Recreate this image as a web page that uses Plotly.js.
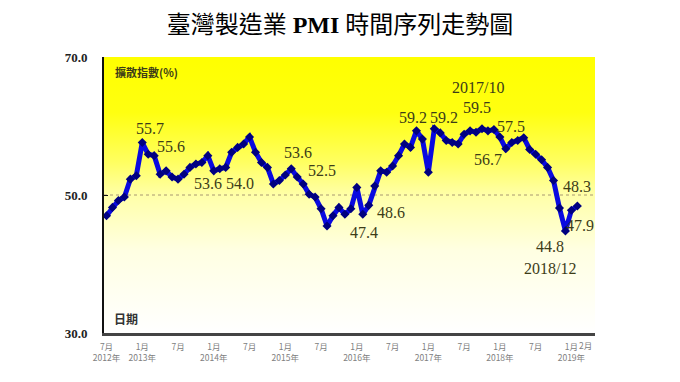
<!DOCTYPE html>
<html>
<head>
<meta charset="utf-8">
<script src="https://cdn.plot.ly/plotly-3.0.1.min.js"></script>
<style>html,body{margin:0;padding:0;background:#fff;}#chart{width:680px;height:382px;}</style>
</head>
<body>
<div id="chart"></div>
<script>
// Monthly PMI, July 2012 (index 0) to February 2019 (index 79)
const startLabel = '2012-07';
const pmi = [
  47.0, 48.2, 49.2, 49.7, 52.3, 52.8,            // 2012 Jul-Dec
  57.6, 55.9, 55.7, 53.0, 53.5, 52.6, 52.3, 53.0, 54.0, 54.5, 54.7, 55.7, // 2013
  53.5, 53.8, 54.0, 56.2, 56.9, 57.4, 58.4, 56.2, 54.7, 54.0, 51.6, 52.1, // 2014
  52.9, 53.8, 52.6, 51.6, 50.1, 49.7, 48.0, 45.5, 47.0, 48.2, 47.2, 48.0, // 2015
  51.1, 47.2, 48.5, 51.3, 53.5, 53.3, 54.2, 55.7, 57.4, 56.9, 59.3, 58.1, // 2016
  53.3, 59.6, 59.0, 57.9, 57.6, 57.4, 58.8, 59.3, 59.1, 59.6, 59.3, 59.5, // 2017
  58.4, 56.7, 57.6, 57.9, 58.3, 56.6, 55.9, 55.1, 54.0, 52.1, 48.1, 44.8, // 2018
  47.8, 48.4                                       // 2019 Jan-Feb
];
const monthIndex = pmi.map((_, i) => i);

const tickIndex = [0, 6, 12, 18, 24, 30, 36, 42, 48, 54, 60, 66, 72, 78];
const tickLabels = ['7月<br>2012年', '1月<br>2013年', '7月', '1月<br>2014年', '7月', '1月<br>2015年',
  '7月', '1月<br>2016年', '7月', '1月<br>2017年', '7月', '1月<br>2018年', '7月', '1月<br>2019年'];

const yTicks = [30, 50, 70];
const yTickLabels = ['30.0', '50.0', '70.0'];

// call-out labels [text, month position, value position]
const callouts = [
  ['55.7', 7.3, 59.6], ['55.6', 10.9, 57.1], ['53.6', 17.0, 51.6], ['54.0', 22.4, 51.6],
  ['53.6', 32.1, 56.1], ['52.5', 36.2, 53.5], ['47.4', 43.2, 44.5], ['48.6', 47.7, 47.4],
  ['59.2', 51.5, 61.3], ['59.2', 56.6, 61.3], ['2017/10', 62.3, 65.65], ['59.5', 62.2, 62.75],
  ['57.5', 67.9, 60.0], ['56.7', 64.0, 55.2], ['48.3', 78.9, 51.3], ['47.9', 79.4, 45.65],
  ['44.8', 74.4, 42.6], ['2018/12', 74.4, 39.4]
];

const serif = 'Liberation Serif, Times New Roman, serif';
const cjk = 'Noto Sans CJK TC, Noto Sans CJK SC, sans-serif';

const gradSvg = "<svg xmlns='http://www.w3.org/2000/svg' width='100' height='100' preserveAspectRatio='none'>" +
  "<defs><linearGradient id='g' x1='0' y1='0' x2='0' y2='1'>" +
  "<stop offset='0' stop-color='#ffff00'/><stop offset='0.2' stop-color='#ffff10'/>" +
  "<stop offset='0.38' stop-color='#ffff60'/><stop offset='0.5' stop-color='#ffffa8'/>" +
  "<stop offset='0.7' stop-color='#ffffe2'/><stop offset='1' stop-color='#ffffff'/>" +
  "</linearGradient></defs><rect width='100' height='100' fill='url(#g)'/></svg>";

const annotations = callouts.map(c => ({
  text: c[0], x: c[1], y: c[2], xref: 'x', yref: 'y', showarrow: false,
  font: {family: serif, size: 16, color: '#3c3c18'}
}));
annotations.push({text: '擴散指數(%)', xref: 'paper', yref: 'paper', x: 0.018, y: 0.946,
  xanchor: 'left', yanchor: 'middle', showarrow: false,
  font: {family: cjk, size: 11, color: '#3c3c18', weight: 'bold'}});
annotations.push({text: '日期', xref: 'paper', yref: 'paper', x: 0.016, y: 0.054,
  xanchor: 'left', yanchor: 'middle', showarrow: false,
  font: {family: cjk, size: 12, color: '#333', weight: 'bold'}});
annotations.push({text: '2月', xref: 'x', yref: 'paper', x: 80.4, y: 0, yshift: -12,
  yanchor: 'middle', showarrow: false,
  font: {family: cjk, size: 8.5, color: '#808080'}});

const trace = {
  x: monthIndex, y: pmi, type: 'scatter', mode: 'lines+markers',
  line: {color: '#0a0ae0', width: 5},
  marker: {symbol: 'diamond', size: 7, color: '#000080'},
  hoverinfo: 'y'
};

const layout = {
  width: 680, height: 382,
  margin: {l: 104, r: 85, t: 57, b: 49},
  paper_bgcolor: '#ffffff', plot_bgcolor: 'rgba(0,0,0,0)',
  showlegend: false,
  title: {text: '臺灣製造業 <b>PMI</b> 時間序列走勢圖', x: 0.5, xanchor: 'center',
    y: 0.935, yref: 'container', yanchor: 'middle',
    font: {family: serif + ', Noto Sans CJK TC', size: 24, color: '#000'}},
  xaxis: {range: [-0.42, 81.96], showgrid: false, zeroline: false,
    showline: true, linecolor: '#444', linewidth: 3,
    tickmode: 'array', tickvals: tickIndex, ticktext: tickLabels, ticks: '',
    tickangle: 0, ticklabelstandoff: 4,
    tickfont: {family: cjk, size: 8.5, color: '#808080'}},
  yaxis: {range: [30, 70], showgrid: false, zeroline: false,
    showline: true, linecolor: '#111', linewidth: 2,
    tickmode: 'array', tickvals: yTicks, ticktext: yTickLabels,
    ticks: 'inside', ticklen: 4, tickcolor: '#111', ticklabelstandoff: 12,
    tickfont: {family: serif, size: 13, color: '#222', weight: 'bold'}},
  images: [{source: 'data:image/svg+xml;charset=utf-8,' + encodeURIComponent(gradSvg),
    xref: 'paper', yref: 'paper', x: 0, y: 1, sizex: 1, sizey: 1,
    sizing: 'stretch', xanchor: 'left', yanchor: 'top', layer: 'below'}],
  shapes: [{type: 'line', xref: 'paper', yref: 'y', x0: 0, x1: 1, y0: 50, y1: 50,
    line: {color: '#a89870', width: 1, dash: 'dot'}, layer: 'below'}],
  annotations: annotations
};

Plotly.newPlot('chart', [trace], layout, {displayModeBar: false, staticPlot: true});
</script>
</body>
</html>
